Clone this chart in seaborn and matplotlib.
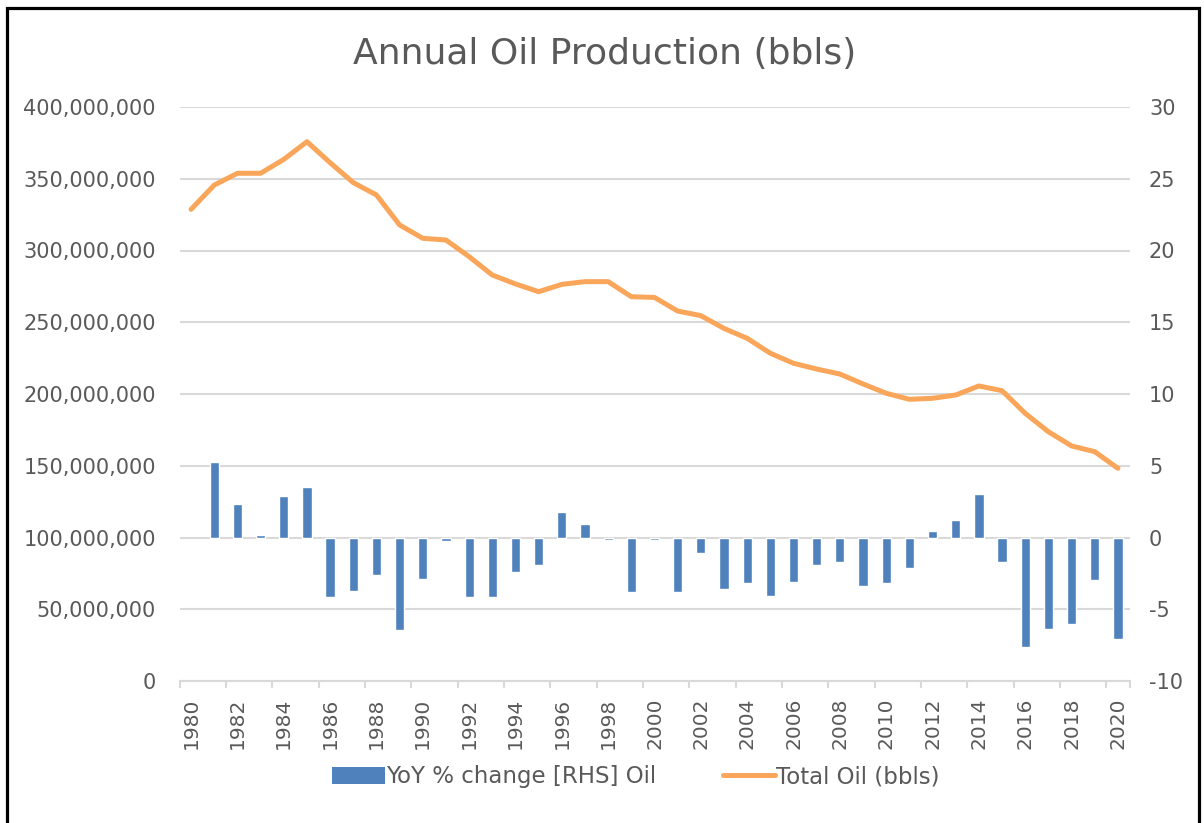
import numpy as np
import pandas as pd
import seaborn as sns
import matplotlib.pyplot as plt
from matplotlib.patches import Patch, Rectangle
from matplotlib.lines import Line2D
from matplotlib.ticker import FuncFormatter, FixedLocator

# Data
years = list(range(1980, 2021))
total_oil_m = [328.7, 345.6, 353.8, 353.8, 363.5, 375.8, 361.2, 347.3, 338.7, 317.8,
               308.5, 307.3, 295.7, 282.9, 276.7, 271.3, 276.4, 278.3, 278.3, 267.8,
               267.3, 257.8, 254.6, 245.7, 238.8, 228.4, 221.4, 217.4, 213.9, 207.0,
               200.5, 196.3, 197.0, 199.3, 205.6, 202.3, 186.5, 173.7, 163.8, 159.8,
               148.2]
yoy_pct = [np.nan, 5.27, 2.32, 0.15, 2.86, 3.51, -4.16, -3.74, -2.58, -6.46,
           -2.88, -0.23, -4.18, -4.13, -2.42, -1.90, 1.79, 0.93, -0.16, -3.81,
           -0.16, -3.79, -1.07, -3.62, -3.16, -4.07, -3.09, -1.95, -1.74, -3.37,
           -3.16, -2.14, 0.46, 1.25, 3.04, -1.72, -7.62, -6.41, -6.02, -2.93,
           -7.08]

df = pd.DataFrame({
    'year': years,
    'total_oil': [v * 1e6 for v in total_oil_m],
    'yoy': yoy_pct,
})

bar_color = '#4F81BD'
line_color = '#F9A65A'
text_color = '#595959'
grid_color = '#D9D9D9'

sns.set_style('white')
plt.rcParams['font.family'] = ['DejaVu Sans']

fig = plt.figure(figsize=(12.04, 8.23), dpi=100)
ax = fig.add_axes([179.5 / 1204, (823 - 681) / 823, 950 / 1204, 574 / 823])
ax2 = ax.twinx()

# line on left axis
sns.lineplot(data=df, x='year', y='total_oil', ax=ax, color=line_color,
             linewidth=3.6, legend=False, zorder=3)
# bars on right axis
sns.barplot(data=df.dropna(), x='year', y='yoy', ax=ax2, color=bar_color,
            native_scale=True, width=0.4, saturation=1, legend=False)

ax.set_xlim(1979.5, 2020.5)
ax.set_ylim(0, 400e6)
ax2.set_ylim(-10, 30)
ax.set_yticks(np.arange(0, 400e6 + 1, 50e6))
ax2.set_yticks(np.arange(-10, 31, 5))
ax.yaxis.set_major_formatter(FuncFormatter(lambda v, p: f'{int(v):,}'))
ax2.yaxis.set_major_formatter(FuncFormatter(lambda v, p: f'{int(v)}'))

ax.grid(axis='y', color=grid_color, linewidth=1.5)
ax.set_axisbelow(True)
for a in (ax, ax2):
    for s in a.spines.values():
        s.set_visible(False)
    a.set_xlabel('')
    a.set_ylabel('')

ax.spines['bottom'].set_visible(True)
ax.spines['bottom'].set_color(grid_color)
ax.spines['bottom'].set_linewidth(1.5)

ax.xaxis.set_major_locator(FixedLocator(years[::2]))
ax.xaxis.set_minor_locator(FixedLocator([y - 0.5 for y in years[::2]] + [2020.5]))
ax.set_xticklabels([str(y) for y in years[::2]], rotation=90)
ax.tick_params(axis='x', which='major', length=0, pad=12, labelsize=14.5, labelcolor=text_color)
ax.tick_params(axis='x', which='minor', length=5, width=1.5, color=grid_color, bottom=True)
ax2.tick_params(axis='x', which='both', bottom=False, labelbottom=False)
ax.tick_params(axis='y', length=0, pad=17, labelsize=15, labelcolor=text_color)
ax2.tick_params(axis='y', length=0, pad=14, labelsize=15, labelcolor=text_color)

fig.text(0.502, 1 - 54 / 823, 'Annual Oil Production (bbls)', ha='center', va='center',
         fontsize=26, color=text_color)

handles = [Patch(facecolor=bar_color, edgecolor='none'),
           Line2D([0], [0], color=line_color, linewidth=3.6)]
fig.legend(handles, ['YoY % change [RHS] Oil', 'Total Oil (bbls)'],
           loc='center', bbox_to_anchor=(636 / 1204, 1 - 777 / 823), ncol=2,
           frameon=False, fontsize=16.5, labelcolor=text_color,
           handlelength=2.3, handletextpad=0.05, columnspacing=2.9)

# outer frame
fig.add_artist(Rectangle((7 / 1204, -0.05), 1192 / 1204, 1.05 - 8.5 / 823,
                         transform=fig.transFigure, fill=False,
                         edgecolor='black', linewidth=2.3))

fig.savefig('out.png', dpi=100)
